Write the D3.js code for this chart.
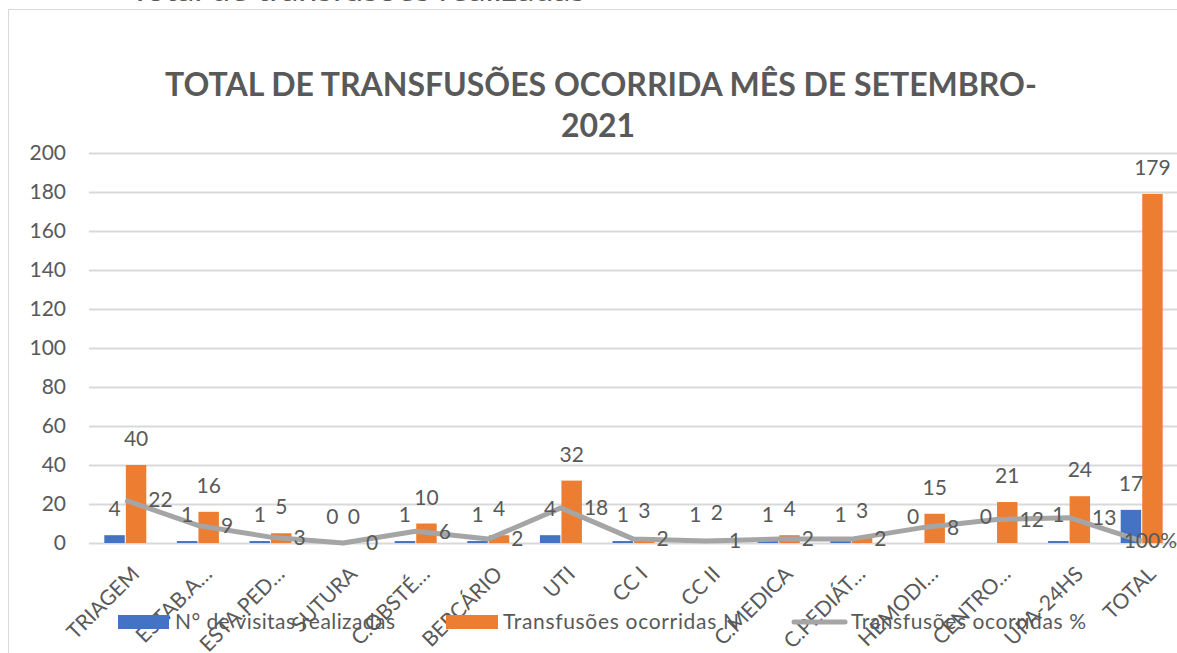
<!DOCTYPE html>
<html>
<head>
<meta charset="utf-8">
<script src="https://cdn.jsdelivr.net/npm/d3@7"></script>
<style>
  body { margin: 0; background: #fff; }
  text { font-family: Lato, "Open Sans", sans-serif; fill: #595959; }
</style>
</head>
<body>
<div id="container"></div>
<script>
/* DATA */
const categories = ["TRIAGEM", "ESTAB.A…", "ESTA.PED…", "SUTURA", "C.OBSTÉ…", "BERCÁRIO", "UTI", "CC I", "CC II", "C.MEDICA", "C.PEDIÁT…", "HEMODI…", "CENTRO…", "UPA-24HS", "TOTAL"];
const visitas = [4, 1, 1, 0, 1, 1, 4, 1, 1, 1, 1, 0, 0, 1, 17];
const transfN = [40, 16, 5, 0, 10, 4, 32, 3, 2, 4, 3, 15, 21, 24, 179];
const transfPct = [22, 9, 3, 0, 6, 2, 18, 2, 1, 2, 2, 8, 12, 13, 1];
const pctLabels = ["22", "9", "3", "0", "6", "2", "18", "2", "1", "2", "2", "8", "12", "13", "100%"];
const yTicks = [0, 20, 40, 60, 80, 100, 120, 140, 160, 180, 200];
const seriesNames = ["N° de visitas realizadas", "Transfusões ocorridas N", "Transfusões ocorridas %"];

/* CONSTANTS */
const width = 1177, height = 653;
const margin = { top: 153, bottom: 110, left: 89, right: 0 };
const colors = { blue: "#4472C4", orange: "#ED7D31", gray: "#A5A5A5", grid: "#D9D9D9" };
const fs = 21;

const svg = d3.select("#container")
  .append("svg")
  .attr("width", width)
  .attr("height", height);

// chart frame
svg.append("rect")
  .attr("x", 8.5).attr("y", 9.5)
  .attr("width", width + 10).attr("height", height + 10)
  .attr("fill", "none")
  .attr("stroke", colors.grid);

// heading above the chart, cut off by the top edge
svg.append("text")
  .attr("x", 130).attr("y", 1)
  .attr("font-size", 28)
  .attr("textLength", 455)
  .attr("lengthAdjust", "spacingAndGlyphs")
  .text("Total de transfusões realizadas");

// title
svg.append("text")
  .attr("x", 601).attr("y", 96)
  .attr("text-anchor", "middle")
  .attr("font-size", 32).attr("font-weight", "bold")
  .text("TOTAL DE TRANSFUSÕES OCORRIDA MÊS DE SETEMBRO-");
svg.append("text")
  .attr("x", 598).attr("y", 137)
  .attr("text-anchor", "middle")
  .attr("font-size", 32).attr("font-weight", "bold")
  .text("2021");

/* SCALES */
const xScale = d3.scaleBand()
  .domain(categories)
  .range([margin.left, margin.left + 15 * 72.6]);

const xSub = d3.scaleBand()
  .domain(["v", "n"])
  .range([-21, 21])
  .paddingInner(0.05);

const yScale = d3.scaleLinear()
  .domain([0, 200])
  .range([543, margin.top]);

const cx = c => xScale(c) + xScale.bandwidth() / 2;

// gridlines + y labels
const yAxis = d3.axisLeft(yScale).tickValues(yTicks).tickSize(-(width - margin.left)).tickPadding(23);
const gy = svg.append("g")
  .attr("transform", `translate(${margin.left},0)`)
  .call(yAxis);
gy.select(".domain").remove();
gy.selectAll("line").attr("stroke", colors.grid).attr("stroke-width", 2);
gy.selectAll("text").attr("font-size", fs).attr("fill", "#595959").attr("font-family", "Lato");

// x labels
svg.append("g")
  .selectAll("text")
  .data(categories)
  .join("text")
  .attr("transform", d => `translate(${cx(d) + 5},${565}) rotate(-45)`)
  .attr("text-anchor", "end")
  .attr("dy", "0.7em")
  .attr("font-size", fs)
  .text(d => d);

// legend (drawn over the axis labels)
const legend = svg.append("g");
legend.append("rect").attr("x", 118).attr("y", 615).attr("width", 51).attr("height", 14).attr("fill", colors.blue);
legend.append("text").attr("x", 175).attr("y", 629).attr("font-size", fs)
  .attr("textLength", 220).attr("lengthAdjust", "spacing").text(seriesNames[0]);
legend.append("rect").attr("x", 446).attr("y", 615).attr("width", 52).attr("height", 14).attr("fill", colors.orange);
legend.append("text").attr("x", 503).attr("y", 629).attr("font-size", fs)
  .attr("textLength", 236).attr("lengthAdjust", "spacing").text(seriesNames[1]);
legend.append("line").attr("x1", 794).attr("x2", 845).attr("y1", 622).attr("y2", 622)
  .attr("stroke", colors.gray).attr("stroke-width", 5).attr("stroke-linecap", "round");
legend.append("text").attr("x", 851).attr("y", 629).attr("font-size", fs)
  .attr("textLength", 235).attr("lengthAdjust", "spacing").text(seriesNames[2]);

// bars
const rows = categories.map((c, i) => ({ c, v: visitas[i], n: transfN[i], p: transfPct[i], pl: pctLabels[i] }));

svg.append("g").selectAll("rect")
  .data(rows)
  .join("rect")
  .attr("x", d => cx(d.c) + xSub("v"))
  .attr("width", xSub.bandwidth())
  .attr("y", d => yScale(d.v))
  .attr("height", d => yScale(0) - yScale(d.v))
  .attr("fill", colors.blue);

svg.append("g").selectAll("rect")
  .data(rows)
  .join("rect")
  .attr("x", d => cx(d.c) + xSub("n"))
  .attr("width", xSub.bandwidth())
  .attr("y", d => yScale(d.n))
  .attr("height", d => yScale(0) - yScale(d.n))
  .attr("fill", colors.orange);

// line
const line = d3.line()
  .x(d => cx(d.c))
  .y(d => yScale(d.p));

svg.append("path")
  .datum(rows)
  .attr("d", line)
  .attr("fill", "none")
  .attr("stroke", colors.gray)
  .attr("stroke-width", 5)
  .attr("stroke-linejoin", "round");

// data labels
svg.append("g").selectAll("text")
  .data(rows)
  .join("text")
  .attr("x", d => cx(d.c) + xSub("v") + xSub.bandwidth() / 2)
  .attr("y", d => yScale(d.v) - 19)
  .attr("text-anchor", "middle")
  .attr("font-size", fs)
  .attr("fill", "#404040")
  .text(d => d.v);

svg.append("g").selectAll("text")
  .data(rows)
  .join("text")
  .attr("x", d => cx(d.c) + xSub("n") + xSub.bandwidth() / 2)
  .attr("y", d => yScale(d.n) - 19)
  .attr("text-anchor", "middle")
  .attr("font-size", fs)
  .attr("fill", "#404040")
  .text(d => d.n);

svg.append("g").selectAll("text")
  .data(rows)
  .join("text")
  .attr("x", (d, i) => i === rows.length - 1 ? width : cx(d.c) + 23)
  .attr("y", d => yScale(d.p))
  .attr("dy", "0.35em")
  .attr("text-anchor", (d, i) => i === rows.length - 1 ? "end" : "start")
  .attr("font-size", fs)
  .attr("fill", "#404040")
  .text(d => d.pl);
</script>
</body>
</html>
